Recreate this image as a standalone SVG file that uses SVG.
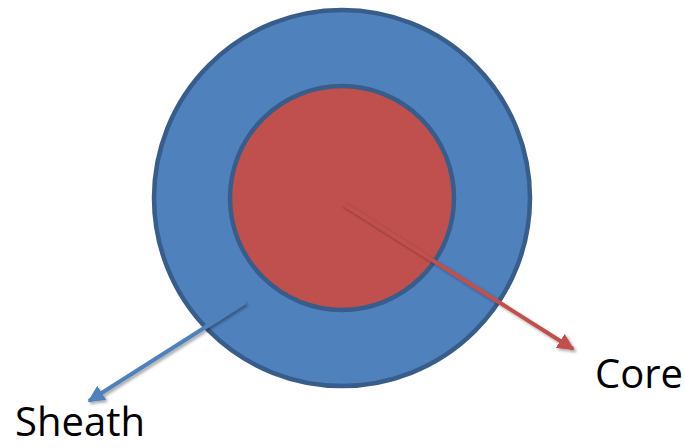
<svg xmlns="http://www.w3.org/2000/svg" width="685" height="448" viewBox="0 0 685 448">
  <style>
    .lbl { font-family: "Open Sans", "Liberation Sans", sans-serif; font-size: 40px; fill: #000; }
    .ring { stroke: #385D8A; stroke-width: 4.5; }
  </style>
  <defs>
    <filter id="sh" x="-20%" y="-20%" width="140%" height="140%">
      <feGaussianBlur in="SourceAlpha" stdDeviation="1.5"/>
      <feOffset dx="1.5" dy="2" result="b"/>
      <feComponentTransfer><feFuncA type="linear" slope="0.35"/></feComponentTransfer>
      <feMerge><feMergeNode/><feMergeNode in="SourceGraphic"/></feMerge>
    </filter>
    <marker id="ahR" viewBox="0 0 10 10" refX="9" refY="5" markerWidth="4.2" markerHeight="4.2" orient="auto" markerUnits="strokeWidth">
      <path d="M0,0 L10,5 L0,10 z" fill="#C0504D"/>
    </marker>
    <marker id="ahB" viewBox="0 0 10 10" refX="9" refY="5" markerWidth="4.2" markerHeight="4.2" orient="auto" markerUnits="strokeWidth">
      <path d="M0,0 L10,5 L0,10 z" fill="#4F81BD"/>
    </marker>
  </defs>
  <g id="sheath">
    <circle class="ring" cx="342" cy="198" r="188" fill="#4F81BD"/>
  </g>
  <g id="core">
    <circle class="ring" cx="342" cy="198" r="112" fill="#C0504D"/>
  </g>
  <g id="connectors" filter="url(#sh)">
    <line x1="342" y1="203" x2="573" y2="349" stroke="#C0504D" stroke-width="4" marker-end="url(#ahR)"/>
    <line x1="245" y1="302" x2="89" y2="401" stroke="#4F81BD" stroke-width="4" marker-end="url(#ahB)"/>
  </g>
  <g id="labels">
    <text class="lbl" x="595" y="388">Core</text>
    <text class="lbl" x="15" y="436">Sheath</text>
  </g>
</svg>
